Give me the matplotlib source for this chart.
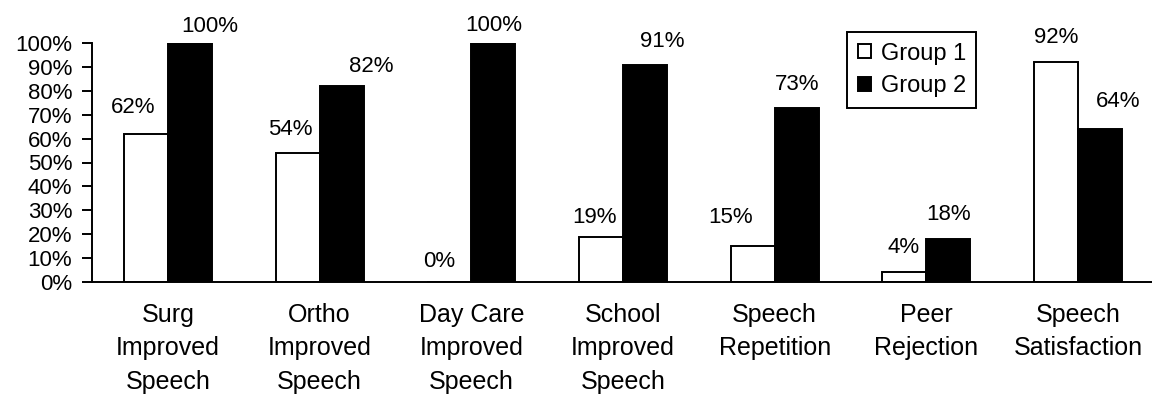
import matplotlib
matplotlib.use("Agg")
import matplotlib.pyplot as plt
import numpy as np

plt.rcParams['font.family'] = ['Liberation Sans', 'DejaVu Sans']

categories = ["Surg\nImproved\nSpeech", "Ortho\nImproved\nSpeech", "Day Care\nImproved\nSpeech",
              "School\nImproved\nSpeech", "Speech\nRepetition", "Peer\nRejection",
              "Speech\nSatisfaction"]
group1 = [62, 54, 0, 19, 15, 4, 92]
group2 = [100, 82, 100, 91, 73, 18, 64]
series_names = ["Group 1", "Group 2"]
yticks = [0, 10, 20, 30, 40, 50, 60, 70, 80, 90, 100]

# hand-placed label nudges (pixels): horizontal shift and gap above bar top
g1_dx = [-13, -7, -10, -7, -22, -1, 0]
g1_gap = [21, 18, 15, 14, 23, 19, 19]
g2_dx = [20, 30, 0, 17, 0, 0, 18]
g2_gap = [11, 14, 12, 18, 18, 19, 22]

W, H = 1152, 394
fig = plt.figure(figsize=(W / 100, H / 100), dpi=100)
ax = fig.add_axes([92 / W, (H - 282) / H, 1062 / W, 239 / H])

x = np.arange(len(categories))
bw = 0.29
lw = 1.4
b1 = ax.bar(x - bw / 2, group1, bw, color="white", edgecolor="black", linewidth=lw,
            label=series_names[0], zorder=2)
b2 = ax.bar(x + bw / 2, group2, bw, color="black", edgecolor="black", linewidth=lw,
            label=series_names[1], zorder=2)

num_fs = 16
cat_fs = 18
leg_fs = 17
for xi, v, dx, g in zip(x - bw / 2, group1, g1_dx, g1_gap):
    ax.annotate(f"{v}%", (xi, v), xytext=(dx, g), textcoords="offset pixels",
                ha="center", va="baseline", fontsize=num_fs, annotation_clip=False)
for xi, v, dx, g in zip(x + bw / 2, group2, g2_dx, g2_gap):
    ax.annotate(f"{v}%", (xi, v), xytext=(dx, g), textcoords="offset pixels",
                ha="center", va="baseline", fontsize=num_fs, annotation_clip=False)

ax.set_xlim(-0.5, len(categories) - 0.5)
ax.set_ylim(0, 100)
ax.set_yticks(yticks)
ax.set_yticklabels([f"{t}%" for t in yticks], fontsize=num_fs)
ax.set_xticks(x)
ax.set_xticklabels(categories, fontsize=cat_fs, linespacing=1.5)
ax.tick_params(axis="x", length=0, pad=15)
ax.tick_params(axis="y", length=7.2, width=lw, pad=7, direction="out")

for s in ["top", "right"]:
    ax.spines[s].set_visible(False)
for s in ["left", "bottom"]:
    ax.spines[s].set_linewidth(lw)

leg = ax.legend(loc="upper left", bbox_to_anchor=(847 / W, 1 - 32 / H),
                bbox_transform=fig.transFigure, fontsize=leg_fs, frameon=True,
                fancybox=False, handlelength=0.55, handleheight=0.55,
                handletextpad=0.42, labelspacing=0.46, borderpad=0.45,
                borderaxespad=0)
leg.get_frame().set_edgecolor("black")
leg.get_frame().set_linewidth(lw)
leg.get_frame().set_alpha(1)

fig.savefig("out.png", dpi=100)
